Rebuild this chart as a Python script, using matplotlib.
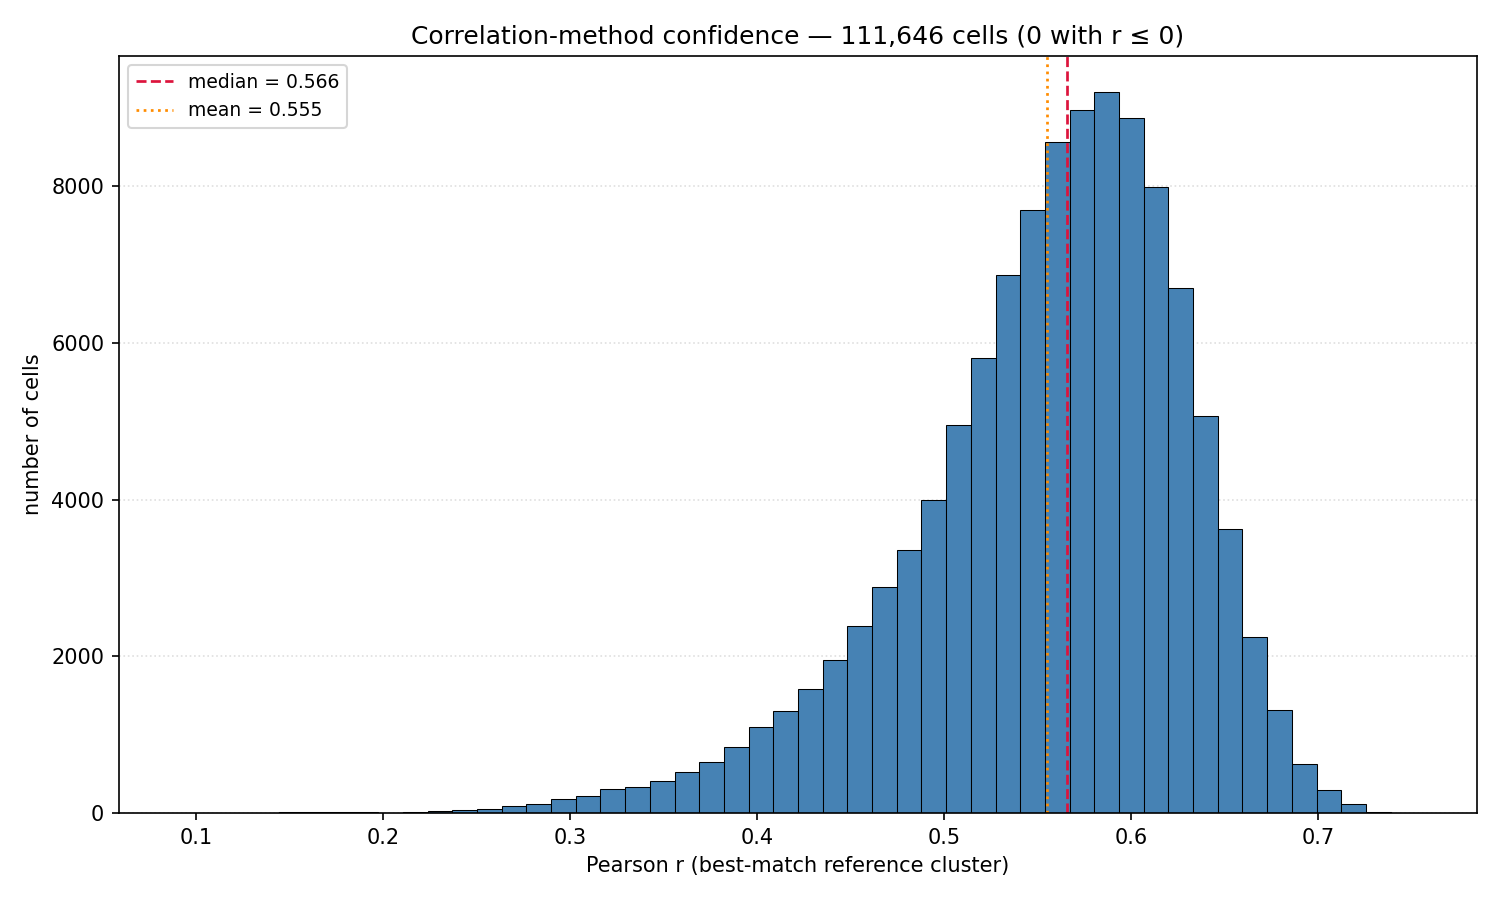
#!/usr/bin/env python3
# -*- coding: utf-8 -*-

"""Histogram of correlation-method confidence (best-match Pearson r per cell)."""

import matplotlib
matplotlib.use("Agg")
import matplotlib.pyplot as plt
import numpy as np

# bin range of Pearson r, 50 equal bins
R_MIN = 0.0917
R_MAX = 0.7522
N_BINS = 50

# cells per bin
COUNTS = [
    1, 2, 2, 2, 16, 18, 17, 15, 2, 13,
    26, 38, 51, 94, 119, 181, 221, 309, 334, 411,
    526, 656, 848, 1091, 1295, 1576, 1947, 2385, 2885, 3360,
    3995, 4945, 5800, 6860, 7694, 8562, 8970, 9200, 8868, 7988,
    6705, 5070, 3625, 2246, 1314, 625, 293, 115, 15, 3,
]

N_CELLS = 111646
N_NONPOSITIVE = 0
MEDIAN_R = 0.566
MEAN_R = 0.555


def main():
    edges = np.linspace(R_MIN, R_MAX, N_BINS + 1)
    centers = 0.5 * (edges[:-1] + edges[1:])

    fig, ax = plt.subplots(figsize=(10, 6), dpi=150)
    ax.hist(centers, bins=edges, weights=COUNTS, color="steelblue",
            edgecolor="black", linewidth=0.5)
    ax.axvline(MEDIAN_R, color="crimson", linestyle="--", linewidth=1.3,
               label=f"median = {MEDIAN_R:.3f}")
    ax.axvline(MEAN_R, color="darkorange", linestyle=":", linewidth=1.3,
               label=f"mean = {MEAN_R:.3f}")

    ax.set_xlabel("Pearson r (best-match reference cluster)")
    ax.set_ylabel("number of cells")
    ax.set_title(f"Correlation-method confidence — {N_CELLS:,} cells "
                 f"({N_NONPOSITIVE} with r ≤ 0)")
    ax.grid(axis="y", linestyle=":", alpha=0.4)
    ax.set_axisbelow(True)
    ax.legend(loc="upper left", fontsize=9)

    fig.subplots_adjust(left=0.0793, right=0.9847, top=0.9378, bottom=0.0967)
    fig.savefig("out.png", dpi=150)
    plt.close(fig)


if __name__ == "__main__":
    main()
